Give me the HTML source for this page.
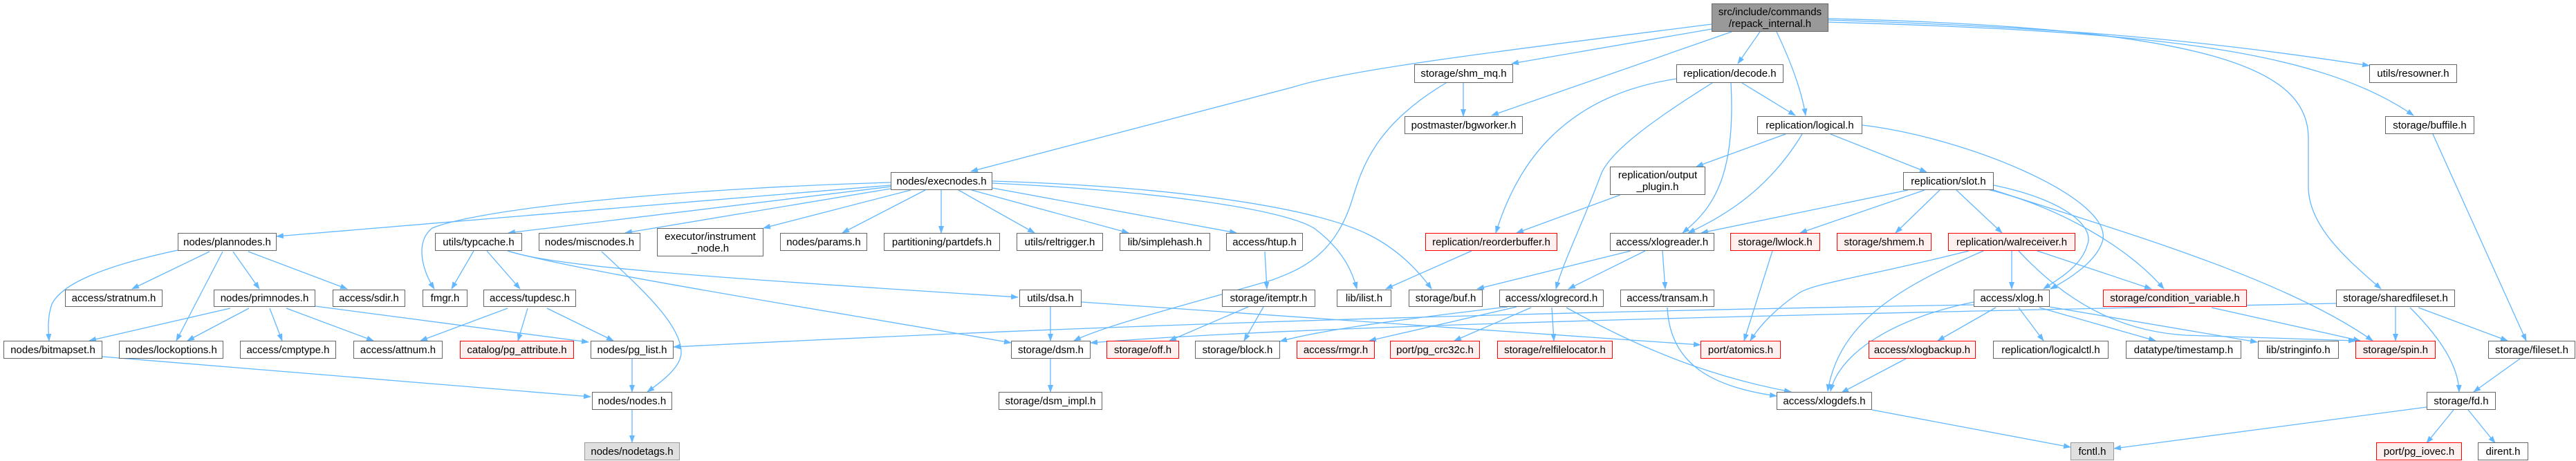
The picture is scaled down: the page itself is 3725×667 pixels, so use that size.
<!DOCTYPE html>
<html><head><meta charset="utf-8"><style>
body{margin:0;width:3725px;height:667px;background:#fff;position:relative;overflow:hidden;font-family:"Liberation Sans",sans-serif}
svg{position:absolute;left:0;top:0}
.n{position:absolute;box-sizing:border-box;border:1.5px solid #666;background:#fff;display:flex;align-items:center;justify-content:center;text-align:center;font-size:15px;line-height:17px;color:#000;white-space:nowrap}
.r{border-color:#f00;background:#fff0f0}
.g{background:#e0e0e0;border-color:#999}
.t{background:#999;border-color:#666}
</style></head><body>
<svg width="3725" height="667" viewBox="0 0 3725 667">
<defs><marker id="a" markerWidth="11" markerHeight="8" refX="10" refY="4" orient="auto" markerUnits="userSpaceOnUse"><path d="M0,0 L11,4 L0,8 z" fill="#63b8ff"/></marker></defs>
<g fill="none" stroke="#63b8ff" stroke-width="1.3" marker-end="url(#a)">
<path d="M2475 35 C2200 70,1950 100,1870 126 L1404 248"/>
<path d="M2475 42 L2186 92"/>
<path d="M2504 46 L2157 167"/>
<path d="M2545 46 L2513 92"/>
<path d="M2569 46 C2590 90,2605 130,2611 167"/>
<path d="M2644 29 C3000 40,3200 60,3426 95"/>
<path d="M2644 32 C3100 45,3350 70,3490 167"/>
<path d="M2644 27 C3200 40,3338 100,3338 200 L3338 270 C3338 330,3400 380,3443 418"/>
<path d="M2424 114 C2250 140,2190 250,2163 337"/>
<path d="M2476 120 C2380 180,2330 220,2316 250 C2290 320,2260 380,2250 418"/>
<path d="M2503 120 C2510 250,2480 300,2433 337"/>
<path d="M2519 120 L2596 167"/>
<path d="M2582 194 L2453 241"/>
<path d="M2606 194 C2560 270,2500 310,2441 337"/>
<path d="M2647 194 L2786 249"/>
<path d="M2693 181 C2850 200,3060 290,3040 350 C3030 380,2990 405,2965 418"/>
<path d="M2343 282 L2193 337"/>
<path d="M2128 363 L2004 418"/>
<path d="M2759 275 L2460 337"/>
<path d="M2783 275 L2603 337"/>
<path d="M2805 275 L2741 337"/>
<path d="M2829 275 L2895 337"/>
<path d="M2883 268 C2990 290,3030 330,3018 355 C3010 385,2975 405,2955 418"/>
<path d="M2874 274 C2980 300,3080 360,3129 418"/>
<path d="M2880 274 C3050 330,3300 400,3431 493"/>
<path d="M2358 363 L2136 418"/>
<path d="M2379 363 L2268 418"/>
<path d="M2404 363 L2408 418"/>
<path d="M2563 363 L2522 493"/>
<path d="M2847 363 C2700 400,2620 410,2600 425 C2570 445,2545 470,2531 493"/>
<path d="M2868 363 C2760 410,2660 460,2643 566"/>
<path d="M2909 363 L2909 418"/>
<path d="M2946 363 L3111 418"/>
<path d="M2919 363 C3000 450,3080 480,3160 485 L3406 493"/>
<path d="M2886 445 L2802 493"/>
<path d="M2919 445 L2955 493"/>
<path d="M2949 445 L3117 493"/>
<path d="M2964 444 L3264 495"/>
<path d="M2854 437 C2740 460,2660 510,2647 566"/>
<path d="M2854 441 C2000 455,1400 480,974 502"/>
<path d="M3378 439 C2600 455,1900 470,1577 496"/>
<path d="M2180 444 C2000 465,1900 480,1851 494"/>
<path d="M2193 444 L1980 493"/>
<path d="M2214 445 L2103 493"/>
<path d="M2244 445 L2247 493"/>
<path d="M2265 445 C2400 520,2500 550,2590 567"/>
<path d="M2411 445 C2415 530,2480 560,2569 573"/>
<path d="M2756 519 L2663 568"/>
<path d="M2707 593 L2994 647"/>
<path d="M3509 589 L3057 649"/>
<path d="M3548 593 L3509 641"/>
<path d="M3569 593 L3608 641"/>
<path d="M3464 444 L3464 493"/>
<path d="M3497 445 L3626 493"/>
<path d="M3485 445 C3530 490,3555 530,3556 567"/>
<path d="M3518 194 L3653 493"/>
<path d="M3644 519 L3577 567"/>
<path d="M3198 445 L3413 493"/>
<path d="M1519 444 L1519 493"/>
<path d="M1564 437 C1900 460,2200 480,2459 499"/>
<path d="M2091 120 C1990 180,1970 240,1955 290 C1930 370,1880 390,1840 405 C1720 440,1600 470,1553 493"/>
<path d="M2116 120 L2116 168"/>
<path d="M1829 364 L1832 418"/>
<path d="M1805 444 L1691 493"/>
<path d="M1827 444 L1799 493"/>
<path d="M1519 519 L1519 567"/>
<path d="M1288 268 L400 342"/>
<path d="M1288 270 L735 337"/>
<path d="M1288 273 L904 337"/>
<path d="M1288 264 C1000 272,700 300,625 330 C600 350,610 390,628 418"/>
<path d="M1317 275 L1104 330"/>
<path d="M1338 275 L1218 337"/>
<path d="M1361 275 L1361 337"/>
<path d="M1386 275 L1496 337"/>
<path d="M1405 275 L1632 337"/>
<path d="M1435 272 L1788 337"/>
<path d="M1435 265 C1650 275,1850 300,1900 330 C1940 360,1955 390,1962 418"/>
<path d="M1435 262 C1700 270,1900 300,1980 340 C2020 360,2050 390,2070 418"/>
<path d="M685 363 L653 418"/>
<path d="M704 363 L752 418"/>
<path d="M734 363 C800 385,1000 400,1472 430"/>
<path d="M737 364 C850 395,1200 450,1462 496"/>
<path d="M870 364 C930 420,985 470,985 510 C985 530,960 550,936 567"/>
<path d="M257 362 C150 385,90 410,75 440 C68 460,70 480,71 493"/>
<path d="M303 364 L191 418"/>
<path d="M322 364 L255 493"/>
<path d="M337 364 L375 418"/>
<path d="M359 364 L502 418"/>
<path d="M333 446 L129 493"/>
<path d="M360 446 L271 493"/>
<path d="M390 446 L408 493"/>
<path d="M414 446 L540 493"/>
<path d="M456 443 L851 495"/>
<path d="M734 446 L608 493"/>
<path d="M763 446 L749 493"/>
<path d="M791 446 L887 493"/>
<path d="M914 519 L914 567"/>
<path d="M148 516 L854 574"/>
<path d="M914 593 L914 640"/>
</g></svg>

<div class="n t" style="left:2475px;top:5px;width:169px;height:41px">src/include/commands<br>/repack_internal.h</div>
<div class="n" style="left:2045px;top:93px;width:143px;height:27px">storage/shm_mq.h</div>
<div class="n" style="left:2424px;top:93px;width:155px;height:27px">replication/decode.h</div>
<div class="n" style="left:3426px;top:93px;width:127px;height:27px">utils/resowner.h</div>
<div class="n" style="left:2031px;top:168px;width:171px;height:26px">postmaster/bgworker.h</div>
<div class="n" style="left:2541px;top:168px;width:152px;height:26px">replication/logical.h</div>
<div class="n" style="left:3449px;top:168px;width:129px;height:26px">storage/buffile.h</div>
<div class="n" style="left:1288px;top:249px;width:147px;height:26px">nodes/execnodes.h</div>
<div class="n" style="left:2328px;top:241px;width:138px;height:41px">replication/output<br>_plugin.h</div>
<div class="n" style="left:2752px;top:249px;width:131px;height:26px">replication/slot.h</div>

<div class="n" style="left:257px;top:337px;width:143px;height:26px">nodes/plannodes.h</div>
<div class="n" style="left:629px;top:337px;width:126px;height:26px">utils/typcache.h</div>
<div class="n" style="left:779px;top:337px;width:147px;height:26px">nodes/miscnodes.h</div>
<div class="n" style="left:950px;top:330px;width:154px;height:41px">executor/instrument<br>_node.h</div>
<div class="n" style="left:1128px;top:337px;width:126px;height:26px">nodes/params.h</div>
<div class="n" style="left:1278px;top:337px;width:168px;height:26px">partitioning/partdefs.h</div>
<div class="n" style="left:1470px;top:337px;width:125px;height:26px">utils/reltrigger.h</div>
<div class="n" style="left:1619px;top:337px;width:131px;height:26px">lib/simplehash.h</div>
<div class="n" style="left:1773px;top:337px;width:111px;height:26px">access/htup.h</div>
<div class="n r" style="left:2061px;top:337px;width:191px;height:26px">replication/reorderbuffer.h</div>
<div class="n" style="left:2328px;top:337px;width:151px;height:26px">access/xlogreader.h</div>
<div class="n r" style="left:2502px;top:337px;width:130px;height:26px">storage/lwlock.h</div>
<div class="n r" style="left:2656px;top:337px;width:137px;height:26px">storage/shmem.h</div>
<div class="n r" style="left:2817px;top:337px;width:184px;height:26px">replication/walreceiver.h</div>

<div class="n" style="left:94px;top:419px;width:141px;height:25px">access/stratnum.h</div>
<div class="n" style="left:309px;top:419px;width:147px;height:25px">nodes/primnodes.h</div>
<div class="n" style="left:481px;top:419px;width:105px;height:25px">access/sdir.h</div>
<div class="n" style="left:611px;top:419px;width:65px;height:25px">fmgr.h</div>
<div class="n" style="left:699px;top:419px;width:134px;height:25px">access/tupdesc.h</div>
<div class="n" style="left:1474px;top:419px;width:90px;height:25px">utils/dsa.h</div>
<div class="n" style="left:1767px;top:419px;width:135px;height:25px">storage/itemptr.h</div>
<div class="n" style="left:1933px;top:419px;width:79px;height:25px">lib/ilist.h</div>
<div class="n" style="left:2037px;top:419px;width:107px;height:25px">storage/buf.h</div>
<div class="n" style="left:2168px;top:419px;width:151px;height:25px">access/xlogrecord.h</div>
<div class="n" style="left:2343px;top:419px;width:136px;height:25px">access/transam.h</div>
<div class="n" style="left:2854px;top:419px;width:110px;height:25px">access/xlog.h</div>
<div class="n r" style="left:3041px;top:419px;width:208px;height:25px">storage/condition_variable.h</div>
<div class="n" style="left:3378px;top:419px;width:172px;height:25px">storage/sharedfileset.h</div>

<div class="n" style="left:5px;top:493px;width:143px;height:26px">nodes/bitmapset.h</div>
<div class="n" style="left:172px;top:493px;width:151px;height:26px">nodes/lockoptions.h</div>
<div class="n" style="left:347px;top:493px;width:139px;height:26px">access/cmptype.h</div>
<div class="n" style="left:511px;top:493px;width:129px;height:26px">access/attnum.h</div>
<div class="n r" style="left:665px;top:493px;width:165px;height:26px">catalog/pg_attribute.h</div>
<div class="n" style="left:854px;top:493px;width:120px;height:26px">nodes/pg_list.h</div>
<div class="n" style="left:1462px;top:493px;width:115px;height:26px">storage/dsm.h</div>
<div class="n r" style="left:1600px;top:493px;width:105px;height:26px">storage/off.h</div>
<div class="n" style="left:1728px;top:493px;width:123px;height:26px">storage/block.h</div>
<div class="n r" style="left:1875px;top:493px;width:113px;height:26px">access/rmgr.h</div>
<div class="n r" style="left:2010px;top:493px;width:130px;height:26px">port/pg_crc32c.h</div>
<div class="n r" style="left:2165px;top:493px;width:167px;height:26px">storage/relfilelocator.h</div>
<div class="n r" style="left:2459px;top:493px;width:116px;height:26px">port/atomics.h</div>
<div class="n r" style="left:2702px;top:493px;width:155px;height:26px">access/xlogbackup.h</div>
<div class="n" style="left:2882px;top:493px;width:167px;height:26px">replication/logicalctl.h</div>
<div class="n" style="left:3074px;top:493px;width:167px;height:26px">datatype/timestamp.h</div>
<div class="n" style="left:3265px;top:493px;width:117px;height:26px">lib/stringinfo.h</div>
<div class="n r" style="left:3406px;top:493px;width:116px;height:26px">storage/spin.h</div>
<div class="n" style="left:3598px;top:493px;width:126px;height:26px">storage/fileset.h</div>

<div class="n" style="left:856px;top:567px;width:116px;height:26px">nodes/nodes.h</div>
<div class="n" style="left:1444px;top:567px;width:150px;height:26px">storage/dsm_impl.h</div>
<div class="n" style="left:2569px;top:567px;width:138px;height:26px">access/xlogdefs.h</div>
<div class="n" style="left:3509px;top:567px;width:100px;height:26px">storage/fd.h</div>

<div class="n g" style="left:845px;top:640px;width:138px;height:26px">nodes/nodetags.h</div>
<div class="n g" style="left:2994px;top:640px;width:63px;height:26px">fcntl.h</div>
<div class="n r" style="left:3436px;top:640px;width:124px;height:26px">port/pg_iovec.h</div>
<div class="n" style="left:3583px;top:640px;width:73px;height:26px">dirent.h</div>
</body></html>
